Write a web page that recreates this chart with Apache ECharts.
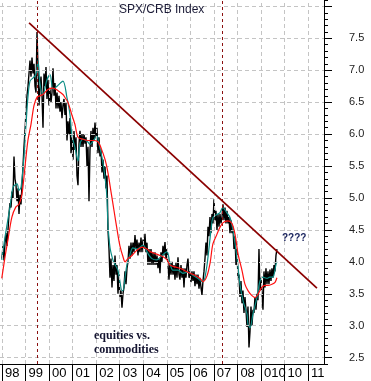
<!DOCTYPE html>
<html><head><meta charset="utf-8">
<script src="https://cdn.jsdelivr.net/npm/echarts@6/dist/echarts.min.js"></script>
<style>html,body{margin:0;padding:0;background:#fff}#c{width:371px;height:381px}</style>
</head><body><div id="c"></div>
<script>
// ---- data ----
const yearTicks = [1998,1999,2000,2001,2002,2003,2004,2005,2006,2007,2008,2009,2010,2011];
const yearLabels = ['98','99','00','01','02','03','04','05','06','07','08','010','10','11'];
const yLabelValues = [2.5,3.0,3.5,4.0,4.5,5.0,5.5,6.0,6.5,7.0,7.5];
const majorTicks = [2.5,3.0,3.5,4.0,4.5,5.0,5.5,6.0,6.5,7.0,7.5,8.0];
const peakMarkers = [1999.49, 2007.35];
const trendYears = [1999.15, 2011.38];
const trendValues = [7.74, 3.59];

// SPX/CRB ratio, roughly every 2.2 weeks from start of 1998
const blackStart = 1998.0;
const blackStep = 0.04248;
const blackValues = [
4.05,4.25,4.02,4.3,4.45,4.25,4.5,4.75,4.92,4.85,5.1,5.0,5.65,5.3,5.2,4.95,5.15,4.75,5.05,4.9,
5.2,5.5,5.8,6.05,6.35,6.6,6.75,6.95,7.15,6.9,7.2,6.95,7.1,6.75,6.65,7.6,7.05,6.45,6.7,6.9,
6.6,6.1,6.95,6.75,7.05,6.55,6.85,6.45,6.7,6.5,6.65,7.03,6.6,6.8,6.4,6.65,6.4,6.6,6.35,6.5,
6.25,6.45,6.55,6.3,6.5,5.9,6.2,6.0,6.25,5.7,5.95,5.6,6.05,5.75,5.95,5.35,5.2,5.85,6.05,5.8,
6.0,5.8,6.0,5.85,5.95,5.5,5.8,4.95,5.75,6.05,5.8,6.1,5.9,6.18,5.95,6.1,5.7,5.95,5.65,5.75,
5.4,5.6,5.3,5.5,5.15,5.35,4.5,4.2,3.75,4.05,3.6,3.95,3.7,4.1,3.8,3.95,3.5,3.8,3.45,3.55,
3.28,3.5,3.6,3.85,3.65,3.9,4.0,4.25,4.05,4.3,4.1,4.3,4.15,4.42,4.2,4.35,4.1,4.3,4.15,4.38,
4.15,4.35,4.2,4.44,4.15,4.3,3.95,4.2,3.95,4.2,3.95,4.15,3.95,4.15,3.95,4.1,3.9,4.05,3.82,4.15,
4.0,4.25,4.1,4.31,4.05,4.2,3.95,3.72,4.0,3.8,4.0,3.8,3.95,3.72,3.98,3.75,4.07,3.8,3.72,3.95,
3.75,3.9,3.6,3.9,3.75,3.95,4.05,3.75,3.85,3.68,3.85,3.7,3.85,3.62,3.8,3.65,3.8,3.58,3.75,3.6,
3.48,3.7,3.85,4.05,4.3,4.1,4.55,4.4,4.7,4.45,4.75,4.6,4.98,4.65,4.8,4.5,4.75,4.55,4.75,4.6,
4.7,4.9,4.65,4.85,4.6,4.8,4.6,4.7,4.45,4.65,4.45,4.55,4.2,4.4,3.95,4.2,3.75,3.8,3.45,3.7,
3.35,3.55,3.2,3.45,3.25,2.98,3.3,2.66,2.9,3.3,3.0,3.25,3.2,3.45,3.25,3.5,3.4,4.2,3.55,3.75,
3.5,3.25,3.85,3.6,3.9,3.65,3.85,3.65,3.88,3.7,3.9,3.75,3.95,3.85,4.1,4.2];

// short moving average (teal)
const tealYears = [1997.99,1998.13,1998.34,1998.47,1998.64,1998.72,1998.81,1998.93,1999.02,1999.10,1999.19,1999.32,1999.44,1999.53,1999.61,1999.74,1999.91,2000.04,2000.17,2000.34,2000.59,2000.76,2000.89,2000.97,2001.10,2001.23,2001.31,2001.44,2001.61,2001.74,2001.87,2002.04,2002.08,2002.25,2002.38,2002.46,2002.50,2002.59,2002.72,2002.80,2002.93,2003.10,2003.14,2003.23,2003.31,2003.44,2003.56,2003.73,2003.99,2004.20,2004.37,2004.58,2004.80,2005.01,2005.14,2005.26,2005.48,2005.69,2005.90,2006.11,2006.33,2006.50,2006.58,2006.62,2006.71,2006.79,2006.88,2006.96,2007.13,2007.26,2007.38,2007.55,2007.69,2007.82,2007.98,2008.11,2008.24,2008.41,2008.45,2008.54,2008.66,2008.83,2008.96,2009.09,2009.26,2009.38,2009.51,2009.64,2009.68];
const tealValues = [4.03,4.39,4.86,5.17,5.22,5.12,5.17,5.63,6.15,6.57,6.83,6.88,6.93,7.15,6.8,6.62,6.85,6.93,6.7,6.75,6.83,6.57,6.3,5.98,5.79,5.58,5.84,5.92,5.89,5.84,5.89,5.97,5.92,5.63,5.32,5.0,4.59,4.22,4.02,3.96,3.86,3.55,3.55,3.76,3.96,4.12,4.22,4.2,4.26,4.13,4.05,4.03,4.1,4.16,3.97,3.87,3.87,3.82,3.84,3.79,3.74,3.69,3.71,3.75,3.95,4.2,4.5,4.69,4.74,4.77,4.85,4.77,4.69,4.48,4.07,3.65,3.39,3.18,3.03,2.97,3.18,3.44,3.7,3.76,3.74,3.76,3.76,3.96,4.0];

// long moving average (red)
const redYears = [1997.99,1998.13,1998.25,1998.42,1998.59,1998.72,1998.85,1998.98,1999.10,1999.23,1999.36,1999.49,1999.61,1999.74,1999.95,2000.17,2000.38,2000.59,2000.68,2000.80,2000.97,2001.10,2001.23,2001.44,2001.65,2001.87,2002.08,2002.21,2002.38,2002.50,2002.63,2002.76,2002.89,2003.01,2003.14,2003.23,2003.35,2003.52,2003.73,2003.95,2004.16,2004.29,2004.50,2004.71,2004.84,2005.01,2005.14,2005.35,2005.56,2005.77,2005.99,2006.20,2006.41,2006.54,2006.71,2006.84,2006.96,2007.13,2007.26,2007.38,2007.60,2007.77,2007.90,2008.03,2008.20,2008.32,2008.45,2008.62,2008.75,2008.87,2009.04,2009.17,2009.30,2009.47,2009.60,2009.68];
const redValues = [3.74,4.08,4.34,4.7,4.86,4.9,5.06,5.5,5.9,6.15,6.45,6.58,6.6,6.62,6.7,6.72,6.68,6.62,6.57,6.5,6.3,6.15,5.95,5.92,5.9,5.9,5.88,5.78,5.6,5.4,5.1,4.8,4.5,4.25,4.08,4.0,4.05,4.1,4.18,4.23,4.2,4.16,4.13,4.1,4.08,4.03,3.95,3.92,3.9,3.86,3.82,3.79,3.74,3.69,3.78,3.98,4.28,4.43,4.54,4.61,4.64,4.6,4.43,4.12,3.86,3.65,3.55,3.47,3.44,3.49,3.6,3.63,3.63,3.65,3.68,3.75];

// ---- build ----
const blackData = blackValues.map((v, i) => [blackStart + i * blackStep, v]);
const pairs = (xs, ys) => xs.slice(0, Math.min(xs.length, ys.length)).map((x, i) => [x, ys[i]]);
const minorTicks = [];
for (let k = 24; k <= 81; k++) minorTicks.push(k / 10);

const FONT = "'Liberation Sans', Arial, sans-serif";
const chart = echarts.init(document.getElementById('c'), null, {renderer: 'canvas'});
chart.setOption({
  animation: false,
  backgroundColor: '#ffffff',
  title: {
    text: 'SPX/CRB Index', left: 119, top: 4, padding: 0,
    textStyle: {fontSize: 12, fontWeight: 'normal', color: '#1c1c38', fontFamily: FONT}
  },
  grid: {left: 0, right: 47, top: -1, bottom: 17, containLabel: false},
  xAxis: [{
    type: 'value', min: 1997.915, max: 2011.68,
    axisLine: {show: true, onZero: false, lineStyle: {color: '#000', width: 1}},
    axisTick: {show: true, customValues: yearTicks, length: 17, inside: false, lineStyle: {color: '#000', width: 1}},
    axisLabel: {
      customValues: yearTicks,
      formatter: v => yearLabels[yearTicks.indexOf(Math.round(v))] || '',
      align: 'left', padding: [0, 0, 0, 3], margin: 3,
      fontSize: 13, color: '#000', fontFamily: FONT
    },
    splitLine: {show: false}
  }],
  yAxis: [{
    type: 'value', position: 'right', min: 2.4, max: 8.1,
    axisLine: {show: true, onZero: false, lineStyle: {color: '#000', width: 1}},
    axisTick: {show: true, customValues: majorTicks, length: 8, lineStyle: {color: '#000'}},
    axisLabel: {
      customValues: yLabelValues, formatter: v => v.toFixed(1),
      margin: 25, align: 'left', fontSize: 11, color: '#222', fontFamily: FONT
    },
    splitLine: {show: false}
  }, {
    type: 'value', position: 'right', min: 2.4, max: 8.1,
    axisLine: {show: false},
    axisTick: {show: true, customValues: minorTicks, length: 4, lineStyle: {color: '#000'}},
    axisLabel: {show: false},
    splitLine: {show: false}
  }],
  series: [
    {
      type: 'line', data: [[1998, 2.5]], showSymbol: false, silent: true, z: 1,
      lineStyle: {opacity: 0},
      markLine: {
        silent: true, symbol: ['none', 'none'], label: {show: false}, animation: false,
        lineStyle: {color: '#c4c4c4', type: [4, 3], width: 1},
        data: [...yearTicks.map(y => ({xAxis: y})), ...majorTicks.map(v => ({yAxis: v}))]
      }
    },
    {
      type: 'line', data: [[1998, 2.5]], showSymbol: false, silent: true, z: 2,
      lineStyle: {opacity: 0},
      markLine: {
        silent: true, symbol: ['none', 'none'], label: {show: false}, animation: false,
        lineStyle: {color: '#8b1010', type: [3, 3], width: 1},
        data: peakMarkers.map(y => ({xAxis: y}))
      }
    },
    {
      name: 'SPX/CRB', type: 'line', data: blackData, showSymbol: false, z: 3,
      lineStyle: {color: '#000000', width: 1.4}
    },
    {
      name: 'short MA', type: 'line', data: pairs(tealYears, tealValues), showSymbol: false, smooth: 0.3, z: 4,
      lineStyle: {color: '#0a8c84', width: 1.2}
    },
    {
      name: 'long MA', type: 'line', data: pairs(redYears, redValues), showSymbol: false, smooth: 0.3, z: 5,
      lineStyle: {color: '#ff1010', width: 1.2}
    },
    {
      name: 'trend', type: 'line', data: pairs(trendYears, trendValues), showSymbol: false, z: 6,
      lineStyle: {color: '#8b0000', width: 1.7}
    }
  ],
  graphic: [
    {type: 'text', left: 282, top: 233, z: 10,
     style: {text: '????', font: "bold 10px 'Liberation Sans', Arial, sans-serif", fill: '#1c2660'}},
    {type: 'text', left: 94, top: 329, z: 10,
     style: {text: 'equities vs.\ncommodities', font: "bold 12px 'Liberation Serif', 'Times New Roman', serif", lineHeight: 14, fill: '#141430'}}
  ]
});
</script></body></html>
